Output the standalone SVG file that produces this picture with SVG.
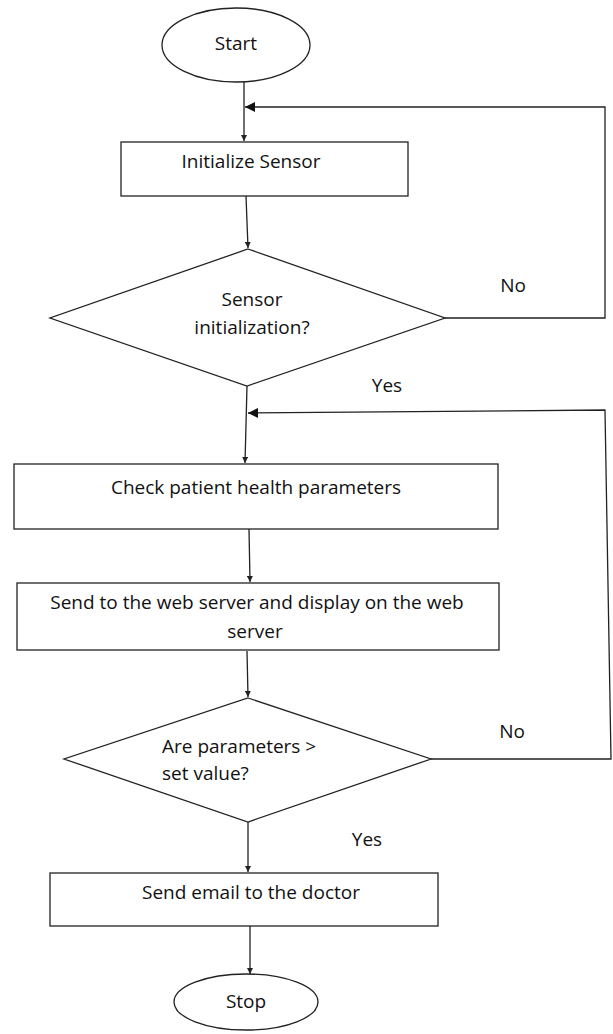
<svg xmlns="http://www.w3.org/2000/svg" width="613" height="1034" viewBox="0 0 613 1034">
<defs>
<style>
.shape{fill:#fff;stroke:#222;stroke-width:1.3}
.conn{fill:none;stroke:#222;stroke-width:1.3}
.t{font-family:"Open Sans","Noto Sans",sans-serif;font-size:19px;fill:#111;text-anchor:middle}
.tl{text-anchor:start}
</style>
<marker id="ah" viewBox="0 0 10 10" refX="10" refY="5" markerWidth="6" markerHeight="6" markerUnits="userSpaceOnUse" orient="auto">
<path d="M0,0 L10,5 L0,10 Z" fill="#222"/>
</marker>
<marker id="ahb" viewBox="0 0 10 10" refX="10" refY="5" markerWidth="10" markerHeight="10" markerUnits="userSpaceOnUse" orient="auto">
<path d="M0,0 L10,5 L0,10 Z" fill="#111"/>
</marker>
</defs>
<rect width="613" height="1034" fill="#fff"/>
<g id="connectors">
<line class="conn" x1="244" y1="82" x2="244" y2="141" marker-end="url(#ah)"/>
<polyline class="conn" points="445,318 605,318 605,107 245,107" marker-end="url(#ahb)"/>
<line class="conn" x1="246" y1="196" x2="248" y2="248" marker-end="url(#ah)"/>
<line class="conn" x1="247" y1="386" x2="245" y2="463" marker-end="url(#ah)"/>
<polyline class="conn" points="431,759 611,759 605,410 248,413" marker-end="url(#ahb)"/>
<line class="conn" x1="249" y1="529" x2="250" y2="582" marker-end="url(#ah)"/>
<line class="conn" x1="247" y1="651" x2="248" y2="697" marker-end="url(#ah)"/>
<line class="conn" x1="248" y1="822" x2="248" y2="872" marker-end="url(#ah)"/>
<line class="conn" x1="250" y1="926" x2="250" y2="974" marker-end="url(#ah)"/>
</g>
<g id="start">
<ellipse class="shape" cx="236" cy="45" rx="74" ry="37"/>
<text class="t" x="236" y="50">Start</text>
</g>
<g id="init">
<rect class="shape" x="121" y="142" width="287" height="54"/>
<text class="t" x="251" y="168">Initialize Sensor</text>
</g>
<g id="dec1">
<polygon class="shape" points="248,249 445,318 247,386 50,318"/>
<text class="t" x="252" y="306">Sensor</text>
<text class="t" x="252" y="334">initialization?</text>
</g>
<g id="labels">
<text class="t" x="513" y="292">No</text>
<text class="t" x="387" y="392">Yes</text>
<text class="t" x="512" y="738">No</text>
<text class="t" x="367" y="846">Yes</text>
</g>
<g id="check">
<rect class="shape" x="14" y="464" width="484" height="65"/>
<text class="t" x="256" y="494">Check patient health parameters</text>
</g>
<g id="send">
<rect class="shape" x="17" y="583" width="482" height="67"/>
<text class="t" x="257" y="609">Send to the web server and display on the web</text>
<text class="t" x="255" y="638">server</text>
</g>
<g id="dec2">
<polygon class="shape" points="248,698 431,759 248,822 64,759"/>
<text class="t tl" x="162" y="753">Are parameters &gt;</text>
<text class="t tl" x="162" y="780">set value?</text>
</g>
<g id="email">
<rect class="shape" x="50" y="873" width="388" height="53"/>
<text class="t" x="251" y="899">Send email to the doctor</text>
</g>
<g id="stop">
<ellipse class="shape" cx="246" cy="1002" rx="72" ry="28"/>
<text class="t" x="246" y="1008">Stop</text>
</g>
</svg>
